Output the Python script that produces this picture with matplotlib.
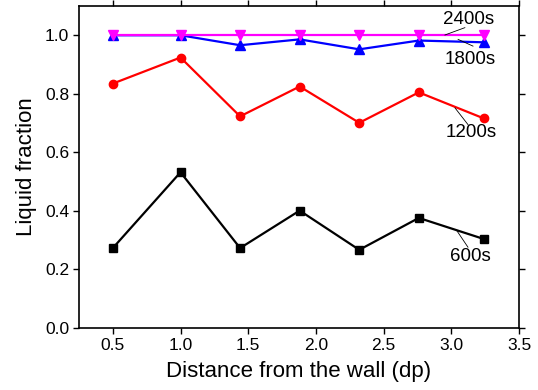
import matplotlib
matplotlib.use("Agg")
import matplotlib.pyplot as plt

plt.rcParams['font.family'] = ['Liberation Sans', 'DejaVu Sans']

# Sampling positions (in particle diameters from the wall)
distance = [0.5, 1.0, 1.44, 1.88, 2.32, 2.76, 3.24]

# Liquid fraction at each time
lf_600 = [0.273, 0.532, 0.273, 0.401, 0.267, 0.376, 0.304]
lf_1200 = [0.835, 0.924, 0.723, 0.825, 0.701, 0.805, 0.716]
lf_1800 = [1.0, 1.0, 0.966, 0.986, 0.952, 0.982, 0.976]
lf_2400 = [1.0, 1.0, 1.0, 1.0, 1.0, 1.0, 1.0]

series_labels = ['600s', '1200s', '1800s', '2400s']
x_ticks = [0.5, 1.0, 1.5, 2.0, 2.5, 3.0, 3.5]
y_ticks = [0.0, 0.2, 0.4, 0.6, 0.8, 1.0]

fig = plt.figure(figsize=(5.38, 3.90), dpi=100)
ax = fig.add_axes([0.1468, 0.159, 0.8179, 0.8256])

ax.plot(distance, lf_600, color='black', marker='s', markersize=5.5, lw=1.6)
ax.plot(distance, lf_1200, color='red', marker='o', markersize=6, lw=1.6)
ax.plot(distance, lf_1800, color='blue', marker='^', markersize=6.5, lw=1.6)
ax.plot(distance, lf_2400, color='#ff00ff', marker='v', markersize=6.5, lw=1.6)

ax.set_xlim(0.25, 3.5)
ax.set_ylim(0.0, 1.1)
ax.set_xticks(x_ticks)
ax.set_xticklabels([f'{v:.1f}' for v in x_ticks])
ax.set_yticks(y_ticks)
ax.set_yticklabels([f'{v:.1f}' for v in y_ticks])
ax.tick_params(axis='both', which='major', direction='out', length=4,
               width=1, labelsize=12.5, top=True, right=True,
               labeltop=False, labelright=False, pad=3)
for sp in ax.spines.values():
    sp.set_linewidth(1.2)

ax.set_xlabel('Distance from the wall (dp)', fontsize=16, labelpad=6)
ax.set_ylabel('Liquid fraction', fontsize=16, labelpad=6)

# Curve labels with thin leader lines: (label, text pos, line start, line end)
callouts = [
    (series_labels[3], (3.13, 1.055), (2.953, 1.001), (3.10, 1.026)),
    (series_labels[2], (3.14, 0.918), (3.05, 0.986), (3.16, 0.963)),
    (series_labels[1], (3.15, 0.668), (3.027, 0.752), (3.123, 0.695)),
    (series_labels[0], (3.14, 0.244), (3.04, 0.333), (3.123, 0.276)),
]
for text, (tx, ty), (x0, y0), (x1, y1) in callouts:
    ax.plot([x0, x1], [y0, y1], color='black', lw=0.6)
    ax.text(tx, ty, text, ha='center', va='center', fontsize=13.5)

fig.savefig('out.png', dpi=100)
